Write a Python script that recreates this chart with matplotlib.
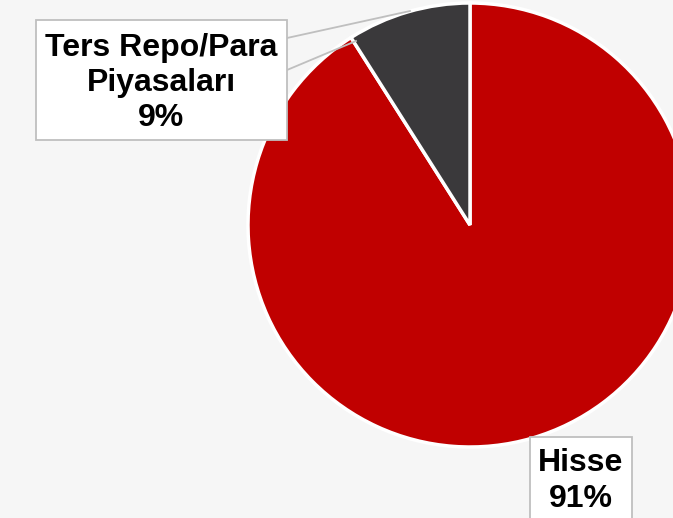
import matplotlib.pyplot as plt
from matplotlib.patches import Rectangle

plt.rcParams['font.family'] = ['Liberation Sans', 'DejaVu Sans']

# Veriler
kategoriler = ['Hisse', 'Ters Repo/Para\nPiyasaları']
oranlar = [91, 9]
renkler = ['#C00000', '#3A393B']

W, H = 673, 518
fig = plt.figure(figsize=(W / 100, H / 100), dpi=100)
fig.patch.set_facecolor('#F6F6F6')
ax = fig.add_axes([0, 0, 1, 1])
ax.set_facecolor('#F6F6F6')

# pasta grafigi (koordinatlar piksel cinsinden, y yukari)
ax.pie(oranlar, colors=renkler, startangle=90, counterclock=False,
       center=(470, H - 225), radius=222,
       wedgeprops=dict(edgecolor='white', linewidth=2.5))
ax.set_xlim(0, W)
ax.set_ylim(0, H)
ax.set_aspect('equal')
ax.axis('off')

etiketler = [f'{k}\n{v}%' for k, v in zip(kategoriler, oranlar)]

# Ters Repo etiketi
ax.plot([287, 410], [H - 38, H - 11], color='#BFBFBF', lw=1.3, zorder=4)
ax.plot([287, 356], [H - 70, H - 41], color='#BFBFBF', lw=1.3, zorder=4)
ax.add_patch(Rectangle((36, H - 140), 251, 120, facecolor='white',
                       edgecolor='#BFBFBF', lw=1.3, zorder=5))
ax.text(161, H - 83, etiketler[1], ha='center', va='center', fontsize=23,
        fontweight='bold', linespacing=1.22, zorder=6)

# Hisse etiketi
ax.add_patch(Rectangle((530, H - 530), 102, 93, facecolor='white',
                       edgecolor='#BFBFBF', lw=1.3, zorder=5))
ax.text(581, H - 481, etiketler[0], ha='center', va='center', fontsize=23,
        fontweight='bold', linespacing=1.22, zorder=6)

fig.savefig('out.png', dpi=100, facecolor=fig.get_facecolor())
